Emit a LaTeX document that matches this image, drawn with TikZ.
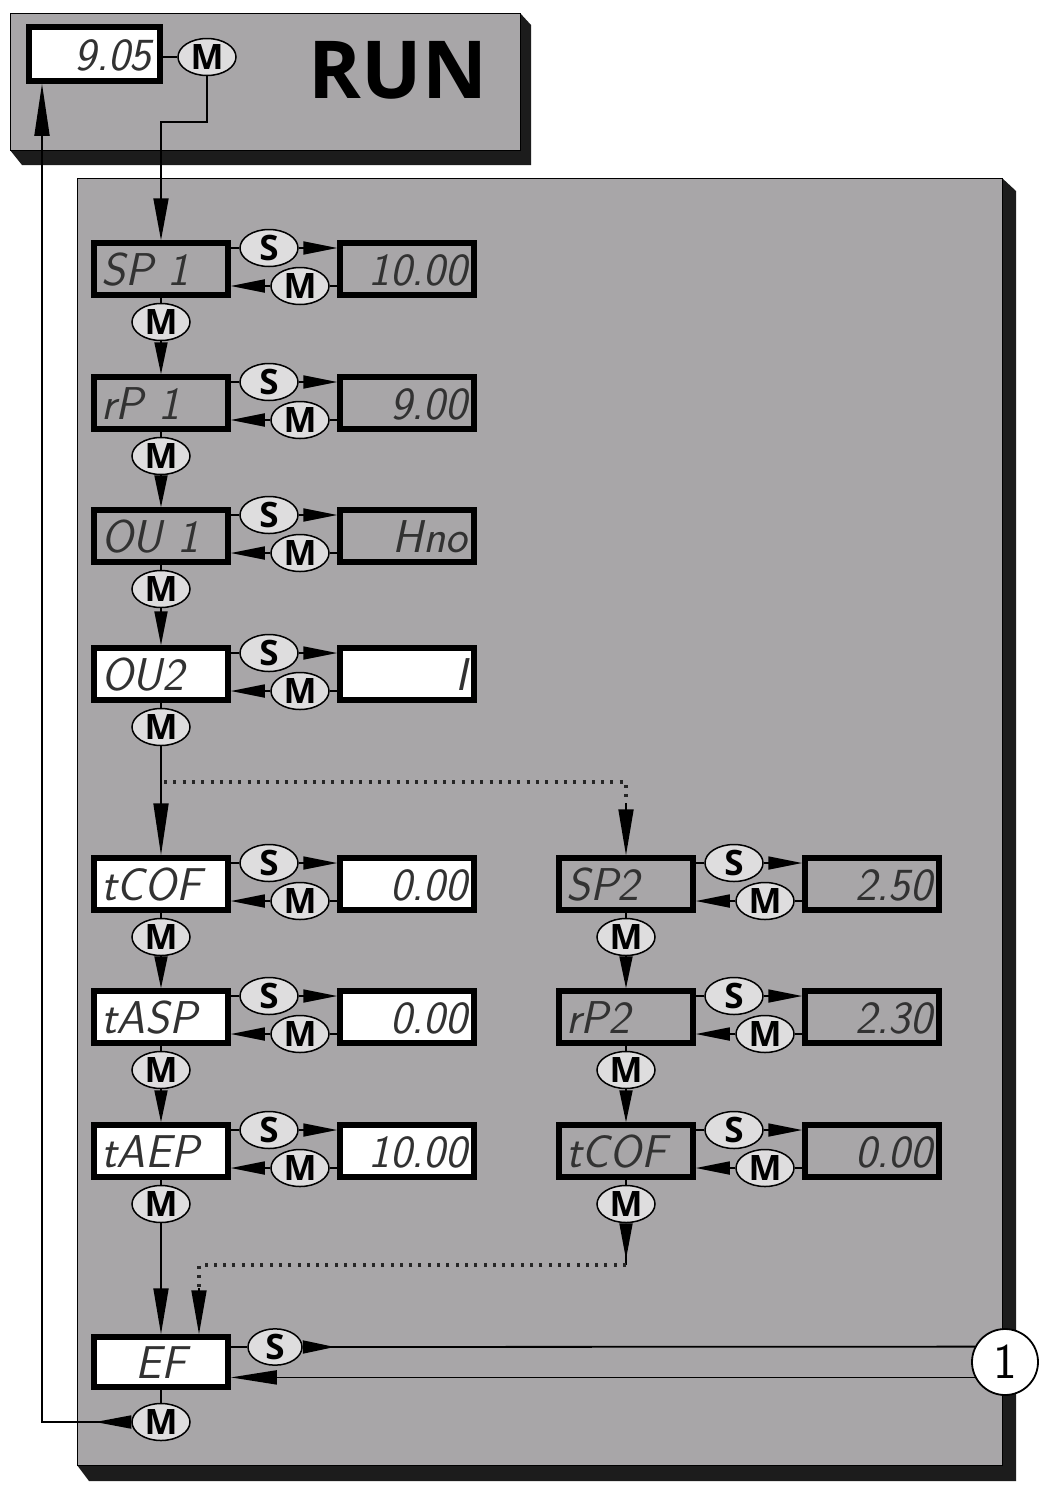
\documentclass[tikz,border=0pt]{standalone}
\usepackage{fontspec}
\usetikzlibrary{arrows.meta,shapes.geometric,calc}
\newfontfamily\btnfont{Open Sans}
\definecolor{panel}{RGB}{168,166,168}
\definecolor{btnfill}{RGB}{222,221,222}
\definecolor{shadowc}{RGB}{28,28,28}
\definecolor{lcdink}{RGB}{50,50,50}
\tikzset{
  disp/.style={draw=black, line width=5.5pt, minimum width=134pt, minimum height=52pt, inner sep=0pt,
    text=lcdink, text height=33pt, text depth=0pt, font=\sffamily\itshape\fontsize{46}{46}\selectfont},
  pbox/.style={disp, text width=120pt, align=left},
  vbox/.style={disp, text width=120pt, align=right},
  btn/.style={ellipse, draw=black, line width=1.5pt, fill=btnfill, minimum width=58pt, minimum height=37pt,
    inner sep=0pt, font=\btnfont\bfseries\fontsize{35}{35}\selectfont},
  conn/.style={draw=black, line width=1.8pt},
  wedge/.style={conn, -{Triangle[length=#1,width=13pt]}},
  rwedge/.style={conn, {Triangle[reversed,length=#1,width=13pt]}-},
  dots/.style={draw=black!85, line width=3.2pt, dash pattern=on 3pt off 6.3pt},
}
\newcommand\menurow[6]{%
  \node[pbox, fill=#6] (#1p) at ({161+#2},{#3+29}) {#4};
  \node[vbox, fill=#6] (#1v) at ({407+#2},{#3+29}) {#5};
  \node[btn] (#1s) at ({269+#2},{#3+8}) {S};
  \node[btn] (#1m) at ({300+#2},{#3+46}) {M};
  \node[btn] (#1d) at ({161+#2},{#3+82}) {M};
  \draw[conn] (#1p.east |- #1s) -- (#1s.west);
  \draw[wedge=34pt] (#1s.east) -- (#1v.west |- #1s);
  \draw[conn] (#1v.west |- #1m) -- (#1m.east);
  \draw[wedge=34pt] (#1m.west) -- (#1p.east |- #1m);
  \draw[conn] (#1p.south) -- (#1d.north);
}
\begin{document}
\begin{tikzpicture}[x=1pt,y=-1pt]
\useasboundingbox (0,0) rectangle (1051,1489);
\fill[white] (0,0) rectangle (1051,1489);
% RUN panel
\fill[shadowc] (10,150) -- (22,165) -- (531,165) -- (531,25) -- (520,13) -- (520,150) -- cycle;
\draw[fill=panel, line width=1pt] (10,13) rectangle (520,150);
% main panel
\fill[shadowc] (77,1465) -- (89,1481) -- (1016,1481) -- (1016,191) -- (1002,178) -- (1002,1465) -- cycle;
\draw[fill=panel, line width=1pt] (77,178) rectangle (1002,1465);

\node[font=\btnfont\bfseries\fontsize{80}{80}\selectfont] (run) at (398,70) {RUN};
\node[disp, fill=white, minimum width=131pt, minimum height=54pt, text width=114pt, align=right] (d0) at (94.5,54) {9.05};
\node[btn] (m0) at (207,57) {M};
\draw[conn] (d0.east |- m0) -- (m0.west);

\menurow{spa}{0}{240}{SP 1}{10.00}{panel}
\menurow{rpa}{0}{374}{rP 1}{9.00}{panel}
\menurow{oua}{0}{507}{OU 1}{Hno}{panel}
\menurow{oub}{0}{645}{OU2}{I}{white}
\menurow{tca}{0}{855}{tCOF}{0.00}{white}
\menurow{tas}{0}{988}{tASP}{0.00}{white}
\menurow{tae}{0}{1122}{tAEP}{10.00}{white}
\menurow{spb}{465}{855}{SP2}{2.50}{panel}
\menurow{rpb}{465}{988}{rP2}{2.30}{panel}
\menurow{tcb}{465}{1122}{tCOF}{0.00}{panel}

% RUN -> SP1
\coordinate (k2) at (161,122);
\draw[conn, -{Triangle[length=42pt,width=15pt]}] (m0.south) |- (k2) -- (spap.north);

% vertical M wedges
\draw[wedge=32pt] (spad.south) -- (rpap.north);
\draw[wedge=32pt] (rpad.south) -- (ouap.north);
\draw[wedge=34pt] (ouad.south) -- (oubp.north);
\draw[wedge=32pt] (tcad.south) -- (tasp.north);
\draw[wedge=32pt] (tasd.south) -- (taep.north);
\draw[wedge=32pt] (spbd.south) -- (rpbp.north);
\draw[wedge=32pt] (rpbd.south) -- (tcbp.north);

% OU2 -> tCOF / SP2
\draw[conn, -{Triangle[length=52pt,width=15pt]}] (oubd.south) -- (tcap.north);
\coordinate (b1) at (164,782);
\coordinate (b2) at (626,782);
\coordinate (b3) at (626,803);
\draw[dots] (b1) -- (b2) -- (b3);
\draw[conn, -{Triangle[length=46pt,width=15pt]}] (b3) -- (spbp.north);

% EF
\node[disp, fill=white, minimum height=50pt] (efp) at (161,1362) {EF};
\node[btn, minimum width=54pt, minimum height=35pt] (efs) at (275,1347) {S};
\node[btn] (efd) at (161,1422) {M};
\node[circle, draw=black, line width=1.8pt, fill=white, minimum size=66pt, inner sep=0pt,
  font=\sffamily\fontsize{50}{50}\selectfont] (one) at (1005,1362) {1};
\draw[conn] (efp.east |- efs) -- (efs.west);
\draw[rwedge=32pt] (efs.east) -- (one.153);
\draw[conn, -{Triangle[length=46pt,width=14pt]}] (one.207) -- (efp.east |- one.207);
\draw[conn] (efp.south) -- (efd.north);
\coordinate (rt) at (42,1422);
\draw[conn, {Triangle[reversed,length=36pt,width=13pt]}-{Triangle[length=52pt,width=15pt]}] (efd.west) -- (rt) -- (rt |- d0.south);

% into EF
\draw[conn, -{Triangle[length=46pt,width=15pt]}] (taed.south) -- (efp.north);
\coordinate (c1) at (626,1265);
\coordinate (c2) at (199,1265);
\coordinate (c3) at (199,1288);
\draw[rwedge=36pt] (tcbd.south) -- (c1);
\draw[dots] (c1) -- (c2) -- (c3);
\draw[conn, -{Triangle[length=44pt,width=15pt]}] (c3) -- (c3 |- efp.north);
\end{tikzpicture}
\end{document}
